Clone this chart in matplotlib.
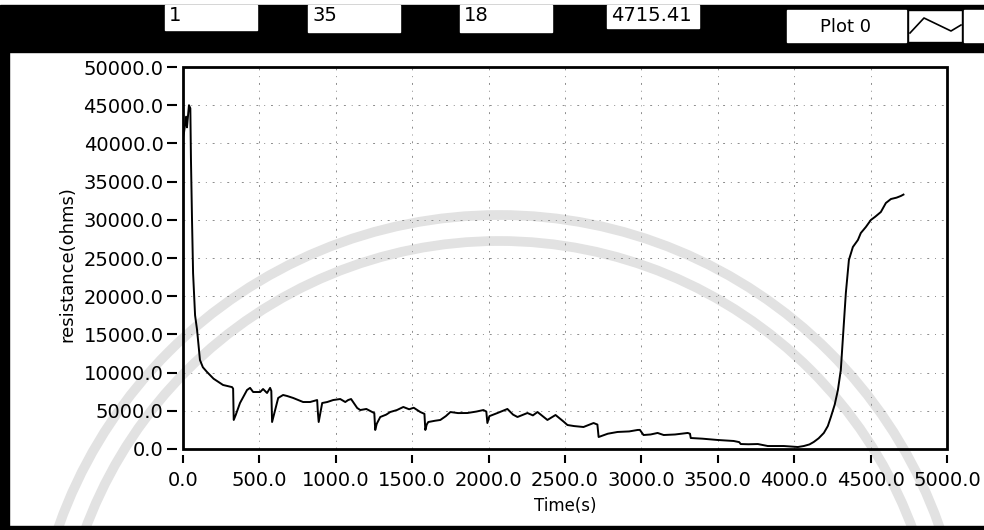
import numpy as np
import matplotlib.pyplot as plt
from matplotlib.patches import Rectangle, Circle

# resistance log
time_s = [0, 7, 20, 26, 39, 48, 52, 59, 66, 79, 92, 111, 130, 157, 200, 262, 300, 321, 328, 332,
          345, 373, 419, 439, 459, 505, 524, 550, 570, 578, 583, 603, 623, 655, 681, 721, 786, 832,
          878, 882, 888, 911, 944, 983, 1029, 1062, 1081, 1100, 1140, 1160, 1200, 1238, 1252, 1258,
          1268, 1291, 1330, 1356, 1400, 1442, 1480, 1510, 1553, 1580, 1586, 1595, 1605, 1650, 1684,
          1720, 1750, 1800, 1861, 1920, 1966, 1985, 1992, 2005, 2058, 2123, 2160, 2189, 2254, 2290,
          2320, 2385, 2438, 2490, 2516, 2560, 2621, 2687, 2712, 2720, 2780, 2844, 2920, 2975, 2990,
          3014, 3060, 3106, 3146, 3220, 3303, 3318, 3323, 3400, 3499, 3604, 3640, 3650, 3700, 3762,
          3800, 3827, 3932, 4024, 4063, 4100, 4128, 4160, 4194, 4220, 4240, 4265, 4286, 4305, 4318,
          4338, 4358, 4384, 4417, 4436, 4469, 4502, 4530, 4567, 4600, 4633, 4670, 4698, 4715]
resistance = [40800, 41500, 43500, 42100, 45000, 44600, 38000, 30000, 23000, 17500, 15600, 11650,
              10700, 10080, 9200, 8380, 8200, 8100, 7900, 3800,
              4450, 6020, 7720, 8000, 7460, 7460, 7850, 7330, 8000, 7600, 3530, 5100, 6680, 7070,
              6940, 6680, 6150, 6150,
              6410, 5000, 3530, 6020, 6150, 6410, 6540, 6150, 6410, 6540, 5370, 5100, 5240, 4840,
              4700, 2490,
              3300, 4190, 4500, 4840, 5100, 5500, 5200, 5400, 4840, 4600, 2490, 3200, 3530, 3700,
              3800,
              4300, 4840, 4700, 4710, 4900, 5100, 4900, 3400, 4300, 4710, 5240, 4500, 4190, 4710,
              4400,
              4840, 3800, 4450, 3600, 3140, 3000, 2880, 3400, 3200, 1570, 2000, 2230, 2300, 2490,
              2500,
              1830, 1900, 2100, 1830, 1900, 2100, 2000, 1440, 1350, 1180, 1050, 900, 650, 620, 650,
              500, 390, 390, 260, 390, 600, 920, 1400, 2100, 3000, 4190, 5800, 7720, 10340, 14270,
              20420, 24740, 26440, 27360, 28270, 29060, 29980, 30400, 31020, 32200, 32720, 32900,
              33120, 33300]

x_ticks = np.arange(0, 5001, 500)
y_ticks = np.arange(0, 50001, 5000)
header_values = ['1', '35', '18', '4715.41']
plot_name = 'Plot 0'

W, H = 984, 530
fig = plt.figure(figsize=(W / 100, H / 100), dpi=100)

# background layer in pixel coordinates (panel frame, header, watermark)
bg = fig.add_axes([0, 0, 1, 1])
bg.set_xlim(0, W)
bg.set_ylim(H, 0)
bg.axis('off')

# faint seal watermark rings
for r in [467, 441]:
    bg.add_patch(Circle((499, 682), r, fill=False, ec='#e2e2e2', lw=7, zorder=0))

bg.add_patch(Rectangle((0, 5), W, 47, color='black', zorder=2))
bg.add_patch(Rectangle((0, 52), 9, H - 52, color='black', zorder=2))
bg.add_patch(Rectangle((0, 526), W, 4, color='black', zorder=2))

boxes = [(165, 5, 92, 25), (308, 5, 92, 27), (460, 5, 92, 27), (607, 5, 92, 23)]
for (bx, by, bw, bh), val in zip(boxes, header_values):
    bg.add_patch(Rectangle((bx, by), bw, bh, color='white', zorder=3))
    bg.text(bx + 4, by + 1, val, fontsize=14, ha='left', va='top', zorder=4)

bg.add_patch(Rectangle((787, 10), 119, 32, color='white', zorder=3))
bg.text(846, 27, plot_name, fontsize=13, ha='center', va='center', zorder=4)
bg.add_patch(Rectangle((908, 10), 54, 32, fc='white', ec='black', lw=1, zorder=3))
bg.plot([910, 924, 951, 961], [33, 18, 31, 25], color='black', lw=1.2, zorder=4)
bg.add_patch(Rectangle((964, 10), 20, 32, color='white', zorder=3))

# main plot
ax = fig.add_axes([183 / W, (H - 449) / H, (947 - 183) / W, (449 - 67) / H])
ax.set_facecolor('none')
ax.plot(time_s, resistance, color='black', lw=1.4, zorder=3)

ax.set_xlim(0, 5000)
ax.set_ylim(0, 50000)
ax.set_xticks(x_ticks)
ax.set_yticks(y_ticks)
ax.set_xticklabels(['%.1f' % v for v in x_ticks])
ax.set_yticklabels(['%.1f' % v for v in y_ticks])
ax.grid(True, color='0.55', lw=0.7, linestyle=(0, (2, 6, 1, 6)))

# ticks sit a little off the frame, like the LabVIEW graph
for side in ['left', 'bottom']:
    ax.spines[side].set_position(('outward', 4))
for side in ax.spines:
    ax.spines[side].set_visible(False)
ax.add_patch(Rectangle((0, 0), 1, 1, transform=ax.transAxes, fill=False,
                       ec='black', lw=2, clip_on=False, zorder=4))

ax.tick_params(axis='y', direction='out', length=7, width=1.5, pad=3, labelsize=14)
ax.tick_params(axis='x', direction='out', length=6, width=1.5, pad=6, labelsize=14)

ax.set_ylabel('resistance(ohms)', fontsize=13)
ax.yaxis.set_label_coords(-0.14, 0.484)
ax.set_xlabel('Time(s)', fontsize=12)
ax.xaxis.set_label_coords(0.5, -0.125)

fig.savefig('out.png', dpi=100)
